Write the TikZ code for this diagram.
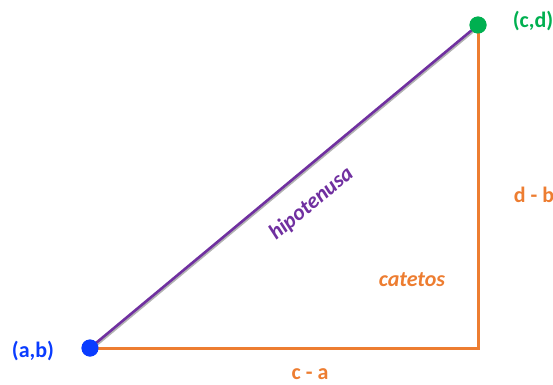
\documentclass[tikz,border=0pt]{standalone}
\usepackage{fontspec}
\setmainfont{Carlito}
\definecolor{naranja}{HTML}{ED7D31}
\definecolor{morado}{HTML}{7030A0}
\definecolor{verde}{HTML}{00B050}
\definecolor{azul}{HTML}{0A3CFF}
\begin{document}
\begin{tikzpicture}[
    x=1pt, y=-1pt,
    every node/.style={font=\fontsize{22}{26}\selectfont\bfseries, inner sep=1pt},
    punto/.style={circle, inner sep=0pt, minimum size=17pt},
    cateto/.style={naranja, line width=3pt},
    hipo/.style={morado, line width=2.6pt}
  ]
  \useasboundingbox (0,0) rectangle (553,384);

  % Points
  \node[punto, fill=azul] (ab) at (90,348) {};
  \node[punto, fill=verde] (cd) at (478,25) {};
  \coordinate (esquina) at (478,348);

  % Catetos
  \draw[cateto] (ab.center) -- (esquina) -- (cd.center);

  % Hipotenusa
  \draw[gray!60, line width=2pt] ([shift={(1.2,1.6)}]ab.center) -- ([shift={(1.2,1.6)}]cd.center);
  \draw[hipo] (ab.center) -- node[sloped, below=19pt, pos=0.52, text=morado, font=\fontsize{22}{26}\selectfont\bfseries\itshape] (hiplab) {hipotenusa} (cd.center);

  % Points again on top
  \fill[azul] (ab) circle (8.5pt);
  \fill[verde] (cd) circle (8.5pt);

  % Labels
  \node[text=azul] (abtxt) at (33,351) {(a,b)};
  \node[text=verde] (cdtxt) at (533,21) {(c,d)};
  \node[text=naranja] (ca) at (310,374) {c - a};
  \node[text=naranja] (db) at (534,195) {d - b};
  \node[text=naranja, font=\fontsize{22}{26}\selectfont\bfseries\itshape] (cat) at (412,280) {catetos};
\end{tikzpicture}
\end{document}
